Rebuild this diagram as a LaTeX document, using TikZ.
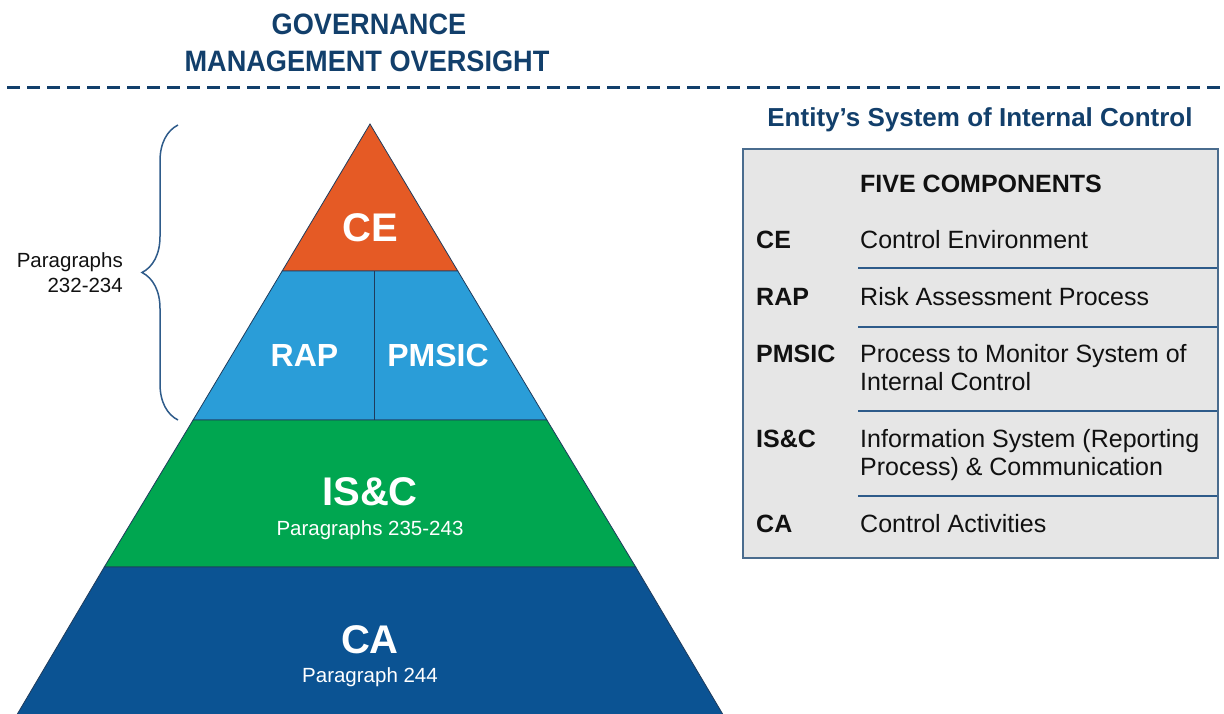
\documentclass[tikz,border=0pt]{standalone}
\usepackage{fontspec}
\setmainfont{Liberation Sans}
\newfontfamily\narrowsans[FakeStretch=0.92]{Liberation Sans}
\usetikzlibrary{positioning,calc}
\usetikzlibrary{decorations.pathreplacing}

\definecolor{govnavy}{HTML}{123F6B}
\definecolor{cecolor}{HTML}{E55A25}
\definecolor{rapcolor}{HTML}{2A9DD8}
\definecolor{iscolor}{HTML}{00A650}
\definecolor{cacolor}{HTML}{0B5393}
\definecolor{layeredge}{HTML}{1F3B5C}
\definecolor{boxfill}{HTML}{E6E6E6}
\definecolor{boxedge}{HTML}{4A6C8E}
\definecolor{rowblue}{HTML}{2E5B8A}
\definecolor{tabletext}{HTML}{111111}

\begin{document}
\begin{tikzpicture}[x=1pt,y=-1pt,
         layer/.style   = {draw=layeredge, line width=0.8pt},
         bigtag/.style  = {text=white, inner sep=0pt, anchor=base,
                           font=\fontsize{40}{44}\selectfont\bfseries},
         midtag/.style  = {text=white, inner sep=0pt, anchor=base,
                           font=\fontsize{32}{36}\selectfont\bfseries},
         paratag/.style = {text=white, inner sep=0pt, anchor=base,
                           font=\fontsize{20.5}{24}\selectfont},
         heading/.style = {text=govnavy, inner sep=0pt, anchor=base,
                           font=\narrowsans\fontsize{29.5}{33}\selectfont\bfseries},
         subhead/.style = {text=govnavy, inner sep=0pt, anchor=base,
                           font=\fontsize{26}{30}\selectfont\bfseries},
         sidenote/.style= {text=tabletext, inner sep=0pt, align=right,
                           font=\fontsize{20.5}{25}\selectfont},
         abbr/.style    = {text=tabletext, inner sep=0pt, anchor=base west,
                           font=\fontsize{25}{28}\selectfont\bfseries},
         desc/.style    = {text=tabletext, inner sep=0pt, anchor=base west,
                           align=left, font=\fontsize{25}{28}\selectfont},
         rowline/.style = {draw=rowblue, line width=2pt}
]

      \useasboundingbox (0,0) rectangle (1224,713);

      % governance header
      \node[heading] (gov)  at (369,34) {GOVERNANCE};
      \node[heading] (mgmt) at (367,71) {MANAGEMENT OVERSIGHT};
      \draw[govnavy, line width=3pt, dash pattern=on 13pt off 7pt]
         (7,87) -- (1224,87);

      % pyramid corners
      \coordinate (apex) at (370,124);
      \coordinate (l1) at (282.2,271);  \coordinate (r1) at (457.8,271);
      \coordinate (l2) at (193.1,420);  \coordinate (r2) at (546.9,420);
      \coordinate (l3) at (104.3,567);  \coordinate (r3) at (635.7,567);
      \coordinate (l4) at (13.8,720);   \coordinate (r4) at (726.2,720);
      \coordinate (d1) at (374,271);    \coordinate (d2) at (374,420);

      \filldraw[layer, fill=cecolor]  (apex) -- (r1) -- (l1) -- cycle;
      \filldraw[layer, fill=rapcolor] (l1) -- (r1) -- (r2) -- (l2) -- cycle;
      \draw[layer] (d1) -- (d2);
      \filldraw[layer, fill=iscolor]  (l2) -- (r2) -- (r3) -- (l3) -- cycle;
      \filldraw[layer, fill=cacolor]  (l3) -- (r3) -- (r4) -- (l4) -- cycle;

      \node[bigtag]  (ce)      at (370,241)   {CE};
      \node[midtag]  (rap)     at (304.5,366) {RAP};
      \node[midtag]  (pmsic)   at (438,366)   {PMSIC};
      \node[bigtag]  (isc)     at (370,505)   {IS\&C};
      \node[paratag] (iscpara) at (370,535)   {Paragraphs 235-243};
      \node[bigtag]  (ca)      at (370,653)   {CA};
      \node[paratag] (capara)  at (370,682)   {Paragraph 244};

      % paragraphs brace
      \draw[rowblue, line width=1.5pt, decorate,
         decoration={brace, amplitude=36pt}] (178,420) -- (178,125);
      \node[sidenote, anchor=base east] (para) at (123,292)
         {Paragraphs\\232-234};

      % five components table
      \node[subhead] (entity) at (980,126) {Entity’s System of Internal Control};
      \filldraw[draw=boxedge, fill=boxfill, line width=1.5pt]
         (743,149) rectangle (1218,558);

      \node[abbr] (five) at (860,192) {FIVE COMPONENTS};

      \node[abbr] (ceab)    at (756,248) {CE};
      \node[desc] (cedesc)  at (860,248) {Control Environment};
      \draw[rowline] (858,268) -- (1217,268);

      \node[abbr] (rapab)   at (756,305) {RAP};
      \node[desc] (rapdesc) at (860,305) {Risk Assessment Process};
      \draw[rowline] (858,327) -- (1217,327);

      \node[abbr] (pmab)    at (756,362) {PMSIC};
      \node[desc] (pmdesc)  at (860,390)
         {Process to Monitor System of\\Internal Control};
      \draw[rowline] (858,411) -- (1217,411);

      \node[abbr] (isab)    at (756,447) {IS\&C};
      \node[desc] (isdesc)  at (860,475)
         {Information System (Reporting\\Process) \& Communication};
      \draw[rowline] (858,496) -- (1217,496);

      \node[abbr] (caab)    at (756,532) {CA};
      \node[desc] (cadesc)  at (860,532) {Control Activities};

\end{tikzpicture}
\end{document}
